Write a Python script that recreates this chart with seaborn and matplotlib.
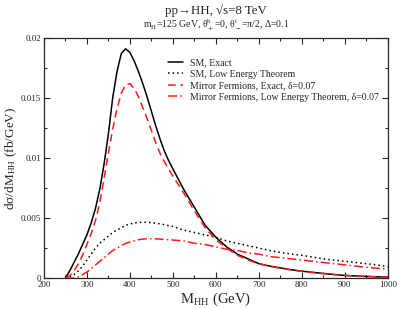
import matplotlib
matplotlib.use("Agg")
import matplotlib.pyplot as plt
import matplotlib.ticker as mticker
import pandas as pd
import seaborn as sns

# Data
mass = [250, 260, 270, 280, 290, 300, 310, 320, 330, 340, 350, 360, 370, 380, 390,
        400, 410, 420, 430, 440, 450, 460, 470, 480, 490, 500,
        525, 550, 575, 600, 625, 650, 675, 700, 725, 750, 775, 800, 825, 850,
        875, 900, 925, 950, 975, 1000]

sm_exact = [0.0, 0.0006, 0.0013, 0.0020, 0.0028, 0.0036, 0.0046, 0.0058, 0.0074, 0.0095,
            0.0120, 0.0150, 0.0172, 0.0187, 0.0191, 0.0188, 0.0181, 0.0172, 0.0162, 0.0151,
            0.0139, 0.0127, 0.0116, 0.0106, 0.0098, 0.0091,
            0.0074, 0.0059, 0.0044, 0.0034, 0.0026, 0.0020, 0.0016, 0.0012, 0.0010, 0.00085,
            0.00070, 0.00058, 0.00048, 0.00039, 0.00030, 0.00022, 0.00018, 0.00014, 0.00011, 0.00009]

sm_let = [0.0, 0.0001, 0.0003, 0.0006, 0.0010, 0.0015, 0.0020, 0.0025, 0.0029, 0.0032,
          0.0035, 0.0038, 0.0040, 0.0042, 0.0044, 0.0045, 0.0046, 0.00463, 0.00465, 0.00465,
          0.00462, 0.00458, 0.00452, 0.00445, 0.00437, 0.0043,
          0.0040, 0.0038, 0.0036, 0.0034, 0.0031, 0.0029, 0.0027, 0.0025, 0.0023, 0.00214,
          0.0020, 0.0019, 0.00175, 0.0016, 0.0015, 0.0014, 0.0013, 0.0012, 0.0011, 0.00095]

mf_exact = [0.0, 0.0002, 0.0006, 0.0012, 0.0019, 0.0028, 0.0037, 0.0048, 0.0063, 0.0083,
            0.0104, 0.0124, 0.0141, 0.0154, 0.0161, 0.0162, 0.0158, 0.0151, 0.0142, 0.0133,
            0.0123, 0.0113, 0.0104, 0.0097, 0.0091, 0.0085,
            0.0071, 0.0056, 0.0042, 0.0032, 0.0025, 0.0019, 0.0015, 0.0012, 0.00098, 0.00082,
            0.00068, 0.00056, 0.00046, 0.00037, 0.00029, 0.00022, 0.00017, 0.00013, 0.00010, 0.00008]

mf_let = [0.0, 0.0, 0.0, 0.0001, 0.0003, 0.0005, 0.0008, 0.0011, 0.0014, 0.0017,
          0.0020, 0.0023, 0.0025, 0.0027, 0.0029, 0.0030, 0.0031, 0.0032, 0.00325, 0.00328,
          0.00328, 0.00327, 0.00325, 0.00322, 0.0032, 0.00317,
          0.0031, 0.0029, 0.0028, 0.0026, 0.0024, 0.0023, 0.0021, 0.0020, 0.0018, 0.0017,
          0.0016, 0.0015, 0.0014, 0.0013, 0.0012, 0.0011, 0.0010, 0.0009, 0.00082, 0.00075]

labels = ["SM, Exact", "SM, Low Energy Theorem",
          "Mirror Fermions, Exact, δ=0.07",
          "Mirror Fermions, Low Energy Theorem, δ=0.07"]

df = pd.DataFrame({"mass": mass, "sm_exact": sm_exact, "sm_let": sm_let,
                   "mf_exact": mf_exact, "mf_let": mf_let})

sns.set_style("ticks")
plt.rcParams["font.family"] = ["Liberation Serif", "DejaVu Serif"]
plt.rcParams["mathtext.fontset"] = "stix"

fig, ax = plt.subplots(figsize=(3.99, 3.09), dpi=100)
fig.subplots_adjust(left=0.110, right=0.972, bottom=0.100, top=0.877)

styles = [("sm_exact", "black", "-"),
          ("sm_let", "black", (0, (1, 2))),
          ("mf_exact", "#ff1a1a", (0, (5, 3))),
          ("mf_let", "#ff1a1a", (0, (6, 2, 1, 2)))]
for (col, color, ls), lab in zip(styles, labels):
    sns.lineplot(data=df, x="mass", y=col, color=color, linestyle=ls,
                 linewidth=1.1, label=lab, ax=ax)

ax.set_xlim(200, 1000)
ax.set_ylim(0, 0.02)
ax.xaxis.set_major_locator(mticker.MultipleLocator(100))
ax.xaxis.set_minor_locator(mticker.MultipleLocator(50))
ax.yaxis.set_major_locator(mticker.MultipleLocator(0.005))
ax.yaxis.set_minor_locator(mticker.MultipleLocator(0.0025))
ax.yaxis.set_major_formatter(mticker.FuncFormatter(lambda v, p: "%g" % round(v, 4)))
ax.tick_params(which="both", direction="in", top=True, right=True, labelsize=6.5, pad=2)
ax.tick_params(which="major", length=4, width=0.8)
ax.tick_params(which="minor", length=2.5, width=0.8)
for s in ax.spines.values():
    s.set_linewidth(0.9)

ax.set_xlabel(r"M$_\mathregular{HH}$ (GeV)", fontsize=10.5, labelpad=1)
ax.set_ylabel(r"dσ/dM$_\mathregular{HH}$ (fb/GeV)", fontsize=9.5, labelpad=1)

fig.text(0.542, 0.965, "pp→HH, √s=8 TeV", ha="center", va="center", fontsize=9.3)
fig.text(0.542, 0.918,
         r"m$_\mathregular{H}$=125 GeV, θ$_+^\mathregular{b}$=0, θ$_-^\mathregular{t}$=π/2, Δ=0.1",
         ha="center", va="center", fontsize=7)

ax.legend(loc="upper left", bbox_to_anchor=(0.36, 0.915), frameon=False,
          fontsize=7, handlelength=1.6, handletextpad=0.7, labelspacing=0.25,
          borderpad=0, borderaxespad=0)

fig.savefig("out.png", dpi=100)
